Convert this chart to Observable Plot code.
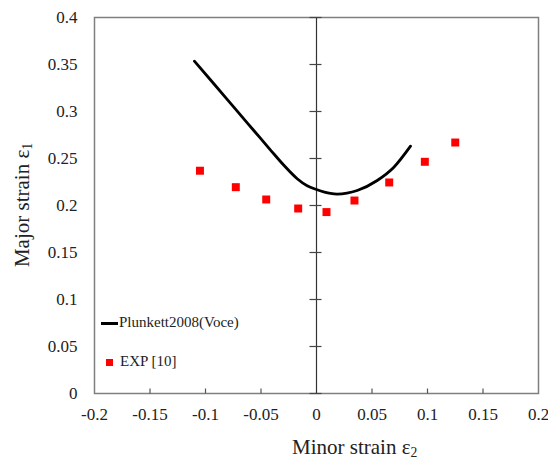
<!DOCTYPE html>
<html>
<head>
<meta charset="utf-8">
<script src="https://cdn.jsdelivr.net/npm/d3@7"></script>
<script src="https://cdn.jsdelivr.net/npm/@observablehq/plot@0.6"></script>
<style>
  html, body { margin: 0; padding: 0; background: #fff; }
  #wrap { position: relative; width: 548px; height: 460px; font-family: "Liberation Serif", "Times New Roman", serif; }
  #wrap svg, #wrap svg text { font-family: "Liberation Serif", "Times New Roman", serif !important; }
  .lbl { position: absolute; white-space: nowrap; color: #222; line-height: 1.15; }
  sub { font-size: 0.65em; vertical-align: -0.25em; line-height: 0; }
</style>
</head>
<body>
<div id="wrap"></div>
<script>
// Model curve: Plunkett2008(Voce)
const modelMinor = [-0.110, -0.0925, -0.0745, -0.0565, -0.0414, -0.0294, -0.0174, -0.0084, 0, 0.0126, 0.0186, 0.0367, 0.0547, 0.0697, 0.0847];
const modelMajor = [0.3535, 0.3295, 0.3046, 0.2798, 0.2590, 0.2428, 0.2285, 0.2210, 0.2170, 0.2128, 0.2122, 0.2160, 0.2266, 0.2407, 0.2631];
// Experimental points EXP [10]
const expMinor = [-0.105, -0.0727, -0.0453, -0.0165, 0.009, 0.0342, 0.0655, 0.0976, 0.125];
const expMajor = [0.237, 0.2195, 0.2064, 0.1968, 0.193, 0.2053, 0.2245, 0.2465, 0.267];
// Tick values
const xTicks = [-0.2, -0.15, -0.1, -0.05, 0, 0.05, 0.1, 0.15, 0.2];
const yTicks = [0, 0.05, 0.1, 0.15, 0.2, 0.25, 0.3, 0.35, 0.4];

const model = modelMinor.map((x, i) => ({x, y: modelMajor[i]}));
const exp = expMinor.map((x, i) => ({x, y: expMajor[i]}));

const hTick = { draw(ctx) { ctx.moveTo(-7, 0); ctx.lineTo(5, 0); } };
const vTick = { draw(ctx) { ctx.moveTo(0, 0); ctx.lineTo(0, -5); } };
const serif = "Liberation Serif";

const chart = Plot.plot({
  width: 548,
  height: 460,
  marginLeft: 94,
  marginRight: 10,
  marginTop: 17,
  marginBottom: 67,
  style: { fontFamily: serif, fontSize: "16px", color: "#222", background: "#fff" },
  x: { domain: [-0.2, 0.2], label: null },
  y: { domain: [0, 0.4], label: null },
  marks: [
    Plot.frame({ stroke: "#7f7f7f", strokeWidth: 1.5 }),
    Plot.ruleX([0], { stroke: "#333", strokeWidth: 1.2 }),
    Plot.dot(yTicks, { x: () => 0, y: d => d, symbol: hTick, stroke: "#444", fill: "none", strokeWidth: 1.2 }),
    Plot.dot(xTicks.filter(d => d !== 0 && Math.abs(d) < 0.2), { x: d => d, y: () => 0, symbol: vTick, stroke: "#555", fill: "none", strokeWidth: 1.2 }),
    Plot.axisY({ ticks: yTicks, tickSize: 0, tickPadding: 17, tickFormat: d => String(d), fontSize: 17, fontFamily: serif, label: null }),
    Plot.axisX({ ticks: xTicks, tickSize: 0, tickPadding: 14, tickFormat: d => String(d), fontSize: 17, fontFamily: serif, label: null }),
    Plot.line(model, { x: "x", y: "y", curve: "monotone-x", stroke: "#000", strokeWidth: 2.8 }),
    Plot.dot(exp, { x: "x", y: "y", symbol: "square", r: 4.5, fill: "#ff0000", stroke: "none" })
  ]
});

const wrap = document.getElementById("wrap");
wrap.appendChild(chart);

function addLabel(html, style) {
  const d = document.createElement("div");
  d.className = "lbl";
  d.innerHTML = html;
  Object.assign(d.style, style);
  wrap.appendChild(d);
  return d;
}
// Axis titles
addLabel("Minor strain ε<sub>2</sub>", { left: "292px", top: "435px", fontSize: "21px" });
addLabel("Major strain ε<sub>1</sub>", { left: "22px", top: "205px", fontSize: "21px", transform: "translate(-50%, -50%) rotate(-90deg)" });
// Legend
addLabel('<span style="display:inline-block;width:17px;height:3px;background:#000;vertical-align:middle;margin-right:1px;"></span>Plunkett2008(Voce)', { left: "101px", top: "314px", fontSize: "15px" });
addLabel('<span style="display:inline-block;width:7px;height:7px;background:#ff0000;vertical-align:middle;margin-left:5px;margin-right:7px;"></span>EXP [10]', { left: "101px", top: "353px", fontSize: "15px" });
</script>
</body>
</html>
